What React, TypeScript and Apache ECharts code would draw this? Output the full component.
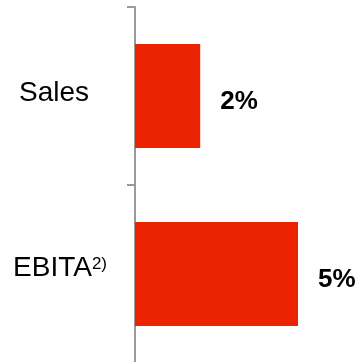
import React, { useEffect, useRef } from "react";
import * as echarts from "echarts";

const categories = ["Sales", "EBITA"];
const footnotes = ["", "2)"];
const values = [2, 5];

const FONT = "Arial, 'Liberation Sans', sans-serif";

export default function App() {
  const ref = useRef<HTMLDivElement>(null);
  useEffect(() => {
    if (!ref.current) return;
    const chart = echarts.init(ref.current, undefined, { renderer: "svg" });
    chart.setOption({
      animation: false,
      grid: { left: 135, top: 7, width: 195.6, height: 356, outerBoundsMode: "none" },
      xAxis: {
        type: "value",
        min: 0,
        max: 6,
        show: false,
        splitLine: { show: false },
      },
      yAxis: {
        type: "category",
        inverse: true,
        data: categories.map((c, i) => ({
          value: c,
          textStyle: { padding: i === 0 ? [0, 18, 10, 0] : [0, 0, 15, 0] },
        })),
        axisLine: { show: true, lineStyle: { color: "#9a9a9a", width: 2 } },
        axisTick: { show: true, length: 8, lineStyle: { color: "#9a9a9a", width: 2 } },
        axisLabel: {
          margin: 28,
          align: "right",
          formatter: (v: string) => {
            const i = categories.indexOf(v);
            return footnotes[i] ? `{m|${v}}{sup|${footnotes[i]}}` : `{m|${v}}`;
          },
          rich: {
            m: { fontFamily: FONT, fontSize: 28, color: "#000", lineHeight: 32 },
            sup: {
              fontFamily: FONT,
              fontSize: 17,
              color: "#000",
              verticalAlign: "top",
              lineHeight: 22,
              padding: [4, 0, 0, 0],
            },
          },
        },
      },
      series: [
        {
          type: "bar",
          data: values,
          barWidth: 104,
          itemStyle: { color: "#EB2300" },
          label: {
            show: true,
            position: "right",
            distance: 20,
            offset: [0, 4],
            formatter: (p: any) => `${p.value}%`,
            fontFamily: FONT,
            fontSize: 26,
            fontWeight: "bold",
            color: "#000",
          },
        },
      ],
    });
    return () => chart.dispose();
  }, []);
  return (
    <div
      ref={ref}
      style={{ position: "fixed", left: 0, top: 0, width: 355, height: 362 }}
    />
  );
}
